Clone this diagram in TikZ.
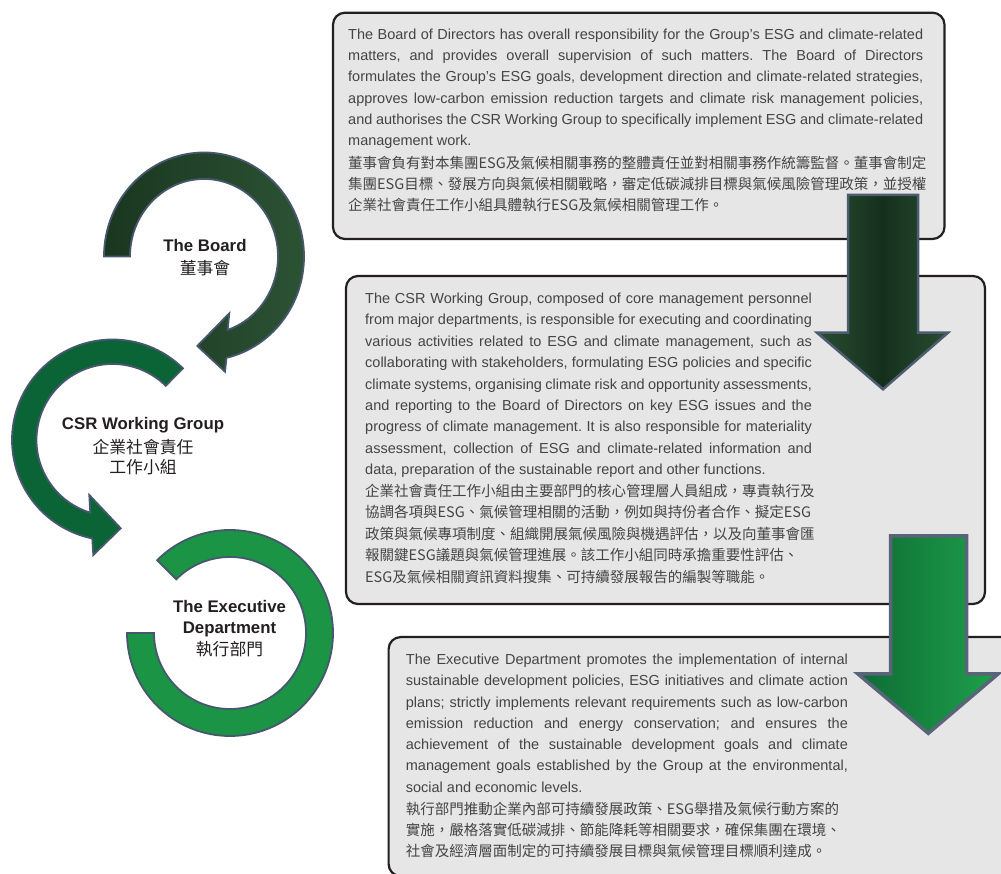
\documentclass[tikz,border=0pt]{standalone}
\usepackage{fontspec}
\setmainfont{Liberation Sans}
\newfontfamily\zh{Noto Sans CJK TC}
\frenchspacing
\definecolor{boxfill}{HTML}{E6E6E6}
\definecolor{boxline}{HTML}{231F20}
\definecolor{txt}{HTML}{444444}
\definecolor{labtxt}{HTML}{231F20}
\definecolor{ringline}{HTML}{47576F}
\definecolor{gOneA}{HTML}{1A3620}
\definecolor{gOneB}{HTML}{2C5234}
\definecolor{gTwo}{HTML}{0B6436}
\definecolor{gThree}{HTML}{1B9445}
\definecolor{arOneEdge}{HTML}{2A4D32}
\definecolor{arOneMid}{HTML}{14301C}
\definecolor{arOneLine}{HTML}{4E5C72}
\definecolor{arTwoA}{HTML}{0E6B34}
\definecolor{arTwoB}{HTML}{1EA14B}
\definecolor{arTwoLine}{HTML}{59637A}
\newcommand\cjkgl{\hskip 0pt plus 1pt minus 0.3pt\relax}
\XeTeXinterchartoks 1 1 = {\cjkgl}
\XeTeXinterchartoks 1 3 = {\cjkgl}
\XeTeXinterchartoks 3 1 = {\cjkgl}
\XeTeXinterchartoks 0 1 = {\cjkgl}
\XeTeXinterchartoks 1 0 = {\cjkgl}
\XeTeXinterchartoks 3 0 = {\cjkgl}
\XeTeXinterchartoks 0 3 = {\cjkgl}
\XeTeXinterchartoks 2 1 = {\cjkgl}
\XeTeXinterchartoks 1 2 = {\cjkgl}
\newcommand\jl[1]{\makebox[\linewidth][s]{#1}\par}
\newcommand\nl[1]{\mbox{#1}\par}
\newcommand\zj[1]{{\XeTeXinterchartokenstate=1\relax\makebox[\linewidth][s]{\zh #1}}\par}
\newcommand\zn[1]{\mbox{\zh #1}\par}
\tikzset{
  panel/.style={rectangle, draw=boxline, line width=2.2pt, fill=boxfill, rounded corners=12pt, inner sep=0pt},
  body/.style={anchor=base west, inner sep=0pt, text=txt},
  lab/.style={anchor=base, inner sep=0pt, text=labtxt},
  ringA/.style={draw=ringline, line width=1.8pt, left color=gOneA, right color=gOneB},
  ringB/.style={draw=ringline, line width=1.8pt, fill=gTwo},
  ringC/.style={draw=ringline, line width=1.8pt, fill=gThree},
  bigA/.style={draw=arOneLine, line width=2.5pt, line join=miter, left color=arOneEdge, right color=arOneEdge, middle color=arOneMid},
  bigB/.style={draw=arTwoLine, line width=3.5pt, line join=miter, left color=arTwoA, right color=arTwoB}
}
\begin{document}
\begin{tikzpicture}[x=1pt,y=1pt]
\useasboundingbox (0,0) rectangle (1001,874);
\clip (0,0) rectangle (1001,874);
\fill[white] (0,0) rectangle (1001,874);

% boxes
\node[panel, minimum width=611.5pt, minimum height=226.3pt] (box1) at (638.75,748.15) {};
\node[panel, minimum width=639pt, minimum height=328pt] (box2) at (665.5,434) {};
\node[panel, minimum width=650pt, minimum height=239pt, anchor=north west] (box3) at (387.5,238) {};

% box texts
\node[body] (t1) at (348,834.7) {\parbox[t]{575pt}{\fontsize{14.5}{21.3}\selectfont
\jl{The Board of Directors has overall responsibility for the Group’s ESG and climate-related}
\jl{matters, and provides overall supervision of such matters. The Board of Directors}
\jl{formulates the Group’s ESG goals, development direction and climate-related strategies,}
\jl{approves low-carbon emission reduction targets and climate risk management policies,}
\jl{and authorises the CSR Working Group to specifically implement ESG and climate-related}
\nl{management work.}
\vspace{1pt}
\zj{董事會負有對本集團ESG及氣候相關事務的整體責任並對相關事務作統籌監督。董事會制定}
\zj{集團ESG目標、發展方向與氣候相關戰略，審定低碳減排目標與氣候風險管理政策，並授權}
\zn{企業社會責任工作小組具體執行ESG及氣候相關管理工作。}}};

\node[body] (t2) at (365,570.7) {\parbox[t]{446.7pt}{\fontsize{14.5}{21.45}\selectfont
\jl{The CSR Working Group, composed of core management personnel}
\jl{from major departments, is responsible for executing and coordinating}
\jl{various activities related to ESG and climate management, such as}
\jl{collaborating with stakeholders, formulating ESG policies and specific}
\jl{climate systems, organising climate risk and opportunity assessments,}
\jl{and reporting to the Board of Directors on key ESG issues and the}
\jl{progress of climate management. It is also responsible for materiality}
\jl{assessment, collection of ESG and climate-related information and}
\nl{data, preparation of the sustainable report and other functions.}
\zj{企業社會責任工作小組由主要部門的核心管理層人員組成，專責執行及}
\zj{協調各項與ESG、氣候管理相關的活動，例如與持份者合作、擬定ESG}
\zj{政策與氣候專項制度、組織開展氣候風險與機遇評估，以及向董事會匯}
\zj{報關鍵ESG議題與氣候管理進展。該工作小組同時承擔重要性評估、}
\zn{ESG及氣候相關資訊資料搜集、可持續發展報告的編製等職能。}}};

\node[body] (t3) at (405.7,209.5) {\parbox[t]{442pt}{\fontsize{14.5}{21.3}\selectfont
\jl{The Executive Department promotes the implementation of internal}
\jl{sustainable development policies, ESG initiatives and climate action}
\jl{plans; strictly implements relevant requirements such as low-carbon}
\jl{emission reduction and energy conservation; and ensures the}
\jl{achievement of the sustainable development goals and climate}
\jl{management goals established by the Group at the environmental,}
\nl{social and economic levels.}
\vspace{0.5pt}
\zn{執行部門推動企業內部可持續發展政策、ESG舉措及氣候行動方案的}
\zn{實施，嚴格落實低碳減排、節能降耗等相關要求，確保集團在環境、}
\zn{社會及經濟層面制定的可持續發展目標與氣候管理目標順利達成。}}};

% big down arrows
\draw[bigA] (848,679) -- (918,679) -- (918,541.3) -- (948,541.3) -- (883,484.7) -- (817,541.3) -- (848,541.3) -- cycle;
\draw[bigB] (890.7,338) -- (966.7,338) -- (966.7,200) -- (998,200) -- (928.3,140.7) -- (858,200) -- (890.7,200) -- cycle;

% ring arrows
\draw[ringA] (104,617.5) arc[start angle=180, end angle=-77, x radius=100, y radius=104]
  -- (225,502.3) -- (197.3,528) -- (229.3,560.7) -- (227.6,544.05)
  arc[start angle=-71.4, end angle=180, x radius=74, y radius=77.5] -- cycle;
\draw[ringB] (182.95,505.67) arc[start angle=45.5, end angle=258.4, radius=100.5]
  -- (93.3,319) -- (120.7,345.7) -- (89.3,379) -- (90.28,361.32)
  arc[start angle=253, end angle=45.5, radius=76] -- cycle;
\draw[ringC] (157.17,313.83) arc[start angle=135, end angle=-180, radius=103]
  -- (154,241) arc[start angle=-180, end angle=135, radius=76] -- cycle;

% labels
\node[lab] (lbl1) at (205,622) {\parbox[t]{170pt}{\centering\fontsize{16.8}{23}\selectfont\bfseries The Board\\{\mdseries\zh 董事會}}};
\node[lab] (lbl2) at (143,444.7) {\parbox[t]{200pt}{\centering\fontsize{16.8}{20}\selectfont\bfseries CSR Working Group\\[4pt]{\mdseries\zh 企業社會責任}\\{\mdseries\zh 工作小組}}};
\node[lab] (lbl3) at (229.5,261.3) {\parbox[t]{200pt}{\centering\fontsize{16.8}{21.2}\selectfont\bfseries The Executive\\Department\\{\mdseries\zh 執行部門}}};
\end{tikzpicture}
\end{document}
